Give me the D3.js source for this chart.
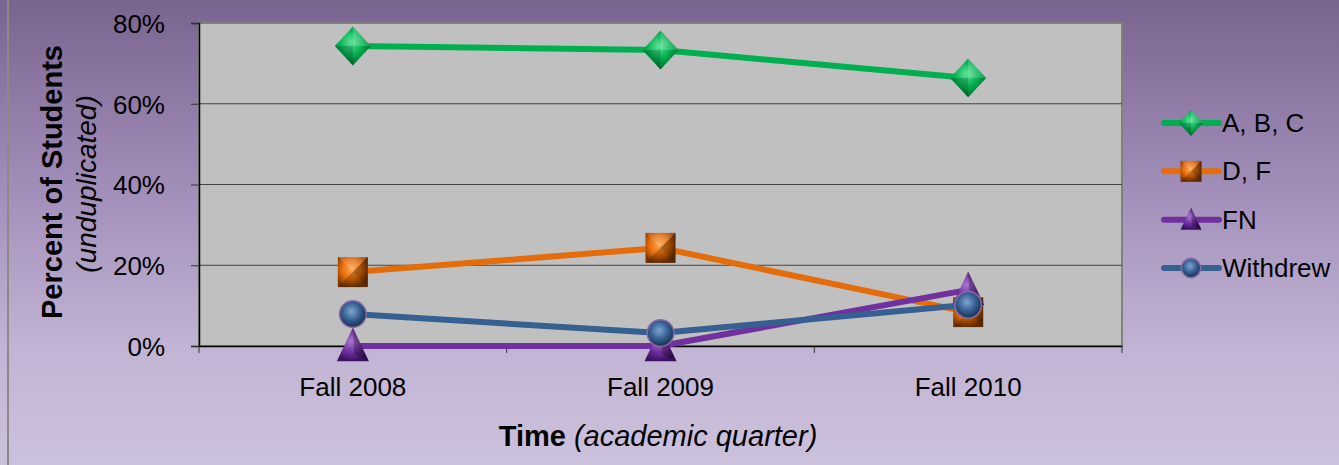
<!DOCTYPE html>
<html lang="en">
<head>
<meta charset="utf-8">
<title>Grades</title>
<script src="https://d3js.org/d3.v7.min.js"></script>
<style>
  body { margin: 0; }
  svg { display: block; font-family: "Liberation Sans", Arial, sans-serif; }
</style>
</head>
<body>
<script>
const width = 1339, height = 465;

// data (percent)
const terms = ["Fall 2008", "Fall 2009", "Fall 2010"];
const seriesNames = ["A, B, C", "D, F", "FN", "Withdrew"];
const abc = [74.3, 73.3, 66.4];
const df = [18.3, 24.3, 8.4];
const fn = [0, 0, 13.9];
const withdrew = [7.9, 3.2, 10.2];
const yTicks = [0, 20, 40, 60, 80];

const series = [
  {name: seriesNames[0], values: abc, color: "#00b050", dark: "#006b2f", light: "#5fe39a", shape: "diamond"},
  {name: seriesNames[1], values: df, color: "#e46c0a", dark: "#7a3500", light: "#ffa552", shape: "square"},
  {name: seriesNames[2], values: fn, color: "#7030a0", dark: "#3c1060", light: "#a978d0", shape: "triangle"},
  {name: seriesNames[3], values: withdrew, color: "#366092", dark: "#16304f", light: "#7fa6d2", shape: "circle"}
];

const plot = {left: 199, right: 1122, top: 23, bottom: 346};

const svg = d3.select("body").append("svg")
  .attr("width", width).attr("height", height);

const defs = svg.append("defs");
const bg = defs.append("linearGradient").attr("id", "bg")
  .attr("x1", 0).attr("y1", 0).attr("x2", 0).attr("y2", 1);
bg.append("stop").attr("offset", "0%").attr("stop-color", "#796490");
bg.append("stop").attr("offset", "45%").attr("stop-color", "#a693bd");
bg.append("stop").attr("offset", "75%").attr("stop-color", "#c2b4d4");
bg.append("stop").attr("offset", "100%").attr("stop-color", "#ccc1dc");

series.forEach((s, i) => {
  const g = defs.append("radialGradient").attr("id", "m" + i)
    .attr("cx", "45%").attr("cy", "40%").attr("r", "60%");
  g.append("stop").attr("offset", "0%").attr("stop-color", s.light);
  g.append("stop").attr("offset", "55%").attr("stop-color", s.color);
  g.append("stop").attr("offset", "100%").attr("stop-color", s.dark);
});

svg.append("rect").attr("width", width).attr("height", height).attr("fill", "url(#bg)");
svg.append("line").attr("x1", 8).attr("x2", 8).attr("y1", 0).attr("y2", height)
  .attr("stroke", "#8a8a8a").attr("stroke-width", 2);

const x = d3.scaleBand().domain(terms).range([plot.left, plot.right]);
const y = d3.scaleLinear().domain([0, 80]).range([plot.bottom, plot.top]);

// plot area
svg.append("rect")
  .attr("x", plot.left).attr("y", plot.top)
  .attr("width", plot.right - plot.left).attr("height", plot.bottom - plot.top)
  .attr("fill", "#c0c0c0").attr("stroke", "#808080").attr("stroke-width", 2);

// gridlines
svg.append("g").selectAll("line").data(yTicks.slice(1, -1)).join("line")
  .attr("x1", plot.left).attr("x2", plot.right)
  .attr("y1", d => y(d)).attr("y2", d => y(d))
  .attr("stroke", "#444").attr("stroke-width", 1.2);

// y axis
const yAxis = svg.append("g").attr("transform", `translate(${plot.left},0)`)
  .call(d3.axisLeft(y).tickValues(yTicks).tickFormat(d => d + "%").tickSize(8).tickPadding(26));
yAxis.select(".domain").attr("stroke", "#000").attr("stroke-width", 1.5);
yAxis.selectAll(".tick line").attr("stroke", "#333");
yAxis.selectAll("text").attr("font-size", 26).attr("fill", "#000").attr("dy", "0.36em")
  .attr("font-family", "Liberation Sans, Arial, sans-serif");

// x axis with ticks at category boundaries
const xAxis = svg.append("g").attr("transform", `translate(0,${plot.bottom})`)
  .call(d3.axisBottom(x).tickSize(0).tickPadding(0));
xAxis.select(".domain").attr("stroke", "#000").attr("stroke-width", 1.5);
xAxis.selectAll("text").attr("font-size", 26).attr("fill", "#000")
  .attr("y", 50).attr("dy", 0)
  .attr("font-family", "Liberation Sans, Arial, sans-serif");
const bounds = terms.map(t => x(t)).concat([x.range()[1]]);
xAxis.selectAll(".bound").data(bounds).join("line").attr("class", "bound")
  .attr("x1", d => d).attr("x2", d => d).attr("y1", 0).attr("y2", 7)
  .attr("stroke", "#333");

const cx = t => x(t) + x.bandwidth() / 2;

function marker(sel, shape, size, fill) {
  const h = size / 2;
  if (shape === "circle") {
    sel.append("circle").attr("r", h * 0.92).attr("fill", fill)
      .attr("stroke", "#8e6aa8").attr("stroke-width", 1.5);
  } else if (shape === "diamond") {
    sel.append("path").attr("d", `M0,${-h * 1.08}L${h},0L0,${h * 1.08}L${-h},0Z`).attr("fill", fill);
    sel.append("path").attr("d", `M0,${-h * 1.08}L${h},0L0,0Z`).attr("fill", "#fff").attr("opacity", 0.18);
    sel.append("path").attr("d", `M0,${h * 1.08}L${-h},0L0,0Z`).attr("fill", "#000").attr("opacity", 0.18);
  } else if (shape === "square") {
    sel.append("rect").attr("x", -h).attr("y", -h).attr("width", size).attr("height", size).attr("fill", fill);
    sel.append("path").attr("d", `M${-h},${-h}L${h},${-h}L0,0Z`).attr("fill", "#fff").attr("opacity", 0.15);
    sel.append("path").attr("d", `M${-h},${h}L${h},${h}L0,0Z`).attr("fill", "#000").attr("opacity", 0.2);
    sel.append("path").attr("d", `M${h},${-h}L${h},${h}L0,0Z`).attr("fill", "#000").attr("opacity", 0.3);
  } else {
    sel.append("path").attr("d", `M0,${-h * 1.15}L${h},${h * 0.95}L${-h},${h * 0.95}Z`).attr("fill", fill);
    sel.append("path").attr("d", `M0,${-h * 1.15}L${h},${h * 0.95}L${h * 0.1},${h * 0.5}Z`).attr("fill", "#000").attr("opacity", 0.25);
  }
}

const line = d3.line().x(d => cx(d.t)).y(d => y(d.v));
const sizes = {diamond: 36, square: 30, triangle: 32, circle: 29};

series.forEach((s, i) => {
  const pts = s.values.map((v, j) => ({t: terms[j], v}));
  const g = svg.append("g");
  g.append("path").datum(pts).attr("d", line)
    .attr("fill", "none").attr("stroke", s.color).attr("stroke-width", 6).attr("stroke-linejoin", "round");
  g.selectAll("g.m").data(pts).join("g").attr("class", "m")
    .attr("transform", d => `translate(${cx(d.t)},${y(d.v)})`)
    .each(function () { marker(d3.select(this), s.shape, sizes[s.shape], `url(#m${i})`); });
});

// legend
const legendY = d3.scalePoint().domain(seriesNames).range([123, 268]);
const legend = svg.append("g");
series.forEach((s, i) => {
  const ly = legendY(s.name);
  const g = legend.append("g").attr("transform", `translate(0,${ly})`);
  g.append("line").attr("x1", 1164).attr("x2", 1219).attr("stroke", s.color)
    .attr("stroke-width", 6).attr("stroke-linecap", "round");
  const m = g.append("g").attr("transform", "translate(1191,0)");
  marker(m, s.shape, s.shape === "diamond" ? 24 : 21, `url(#m${i})`);
  g.append("text").attr("x", 1222).attr("y", 9).attr("font-size", 26).attr("fill", "#000").text(s.name);
});

// axis titles
svg.append("text").attr("transform", "translate(62,182) rotate(-90)")
  .attr("text-anchor", "middle").attr("font-size", 29).attr("font-weight", "bold").text("Percent of Students");
svg.append("text").attr("transform", "translate(96,184) rotate(-90)")
  .attr("text-anchor", "middle").attr("font-size", 28).attr("font-style", "italic").text("(unduplicated)");

const xt = svg.append("text").attr("x", 658).attr("y", 446).attr("text-anchor", "middle").attr("font-size", 29);
xt.append("tspan").attr("font-weight", "bold").text("Time");
xt.append("tspan").attr("font-style", "italic").text(" (academic quarter)");
</script>
</body>
</html>
